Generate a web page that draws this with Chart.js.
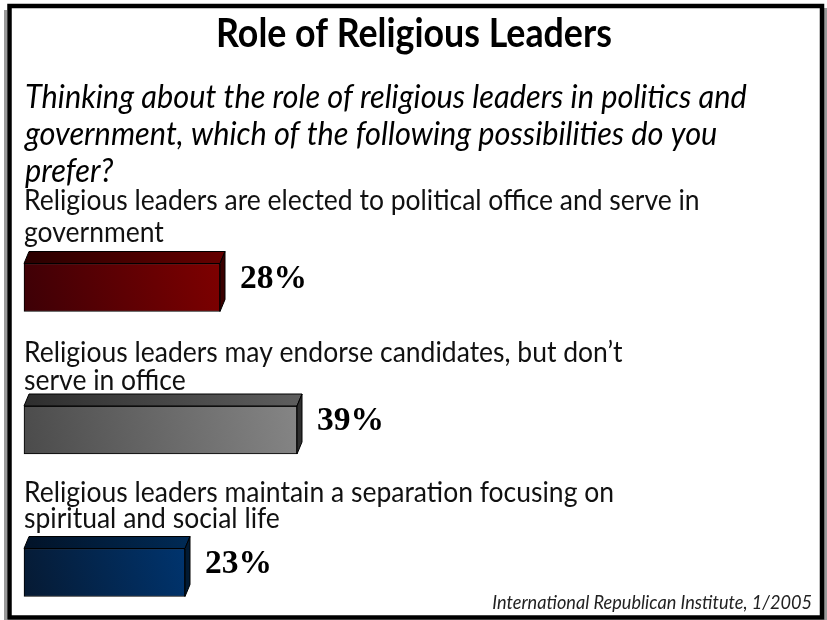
<!DOCTYPE html>
<html>
<head>
<meta charset="utf-8">
<title>Role of Religious Leaders</title>
<script src="https://cdn.jsdelivr.net/npm/chart.js@4.4.1/dist/chart.umd.min.js"></script>
<style>
  html, body { margin: 0; padding: 0; background: #fff; }
  #wrap { width: 827px; height: 620px; }
</style>
</head>
<body>
<div id="wrap"><canvas id="religionChart" width="827" height="620"></canvas></div>
<script>
// data
const categories = [
    ['Religious leaders are elected to political office and serve in', 'government'],
    ['Religious leaders may endorse candidates, but don\u2019t', 'serve in office'],
    ['Religious leaders maintain a separation focusing on', 'spiritual and social life']
];
const values = [28, 39, 23];
const titleText = 'Role of Religious Leaders';
const questionLines = [
    'Thinking about the role of religious leaders in politics and',
    'government, which of the following possibilities do you',
    'prefer?'
];
const sourceText = 'International Republican Institute, 1/2005';

// colours of the 3d bars: front gradient, top gradient, side
const frontColors = [['#3d0006', '#7e0000'], ['#4b4b4b', '#858585'], ['#061a33', '#00346e']];
const topColors = [['#2a0000', '#650000'], ['#2e2e2e', '#5e5e5e'], ['#021328', '#002a55']];
const sideColors = ['#3a0000', '#2f2f2f', '#011a33'];

const sans = 'Lato, "Open Sans", sans-serif';
const serif = '"Liberation Serif", "DejaVu Serif", serif';
const depthX = 5;
const depthY = -12;
const stretch = 1.06; // slide font is a bit narrower than Lato
// baselines for the two lines of each category label
const labelBaselines = [[210, 242], [362, 390], [502, 528]];

// font size so that a text gets a given width
function fitSize(ctx, text, style, family, width) {
    ctx.font = style + ' 100px ' + family;
    return 100 * width / ctx.measureText(text).width;
}

// draw text squeezed horizontally by sx
function squeezed(ctx, text, x, y, sx) {
    ctx.save();
    ctx.translate(x, y);
    ctx.scale(sx, 1);
    ctx.fillText(text, 0, 0);
    ctx.restore();
}

function barBox(chart, i) {
    const el = chart.getDatasetMeta(0).data[i];
    const p = el.getProps(['x', 'y', 'base', 'height'], true);
    return { L: p.base, R: p.x, T: p.y - p.height / 2, B: p.y + p.height / 2, yc: p.y };
}

// white page with the black slide frame
const framePlugin = {
    id: 'frame',
    beforeDraw(chart) {
        const ctx = chart.ctx;
        ctx.save();
        ctx.fillStyle = '#fff';
        ctx.fillRect(0, 0, chart.width, chart.height);
        ctx.fillStyle = '#9a9a9a';
        ctx.fillRect(4, 10, 3, 610);
        ctx.fillRect(824, 8, 3, 612);
        ctx.strokeStyle = '#000';
        ctx.lineWidth = 4.5;
        ctx.strokeRect(9.5, 6, 812.5, 611.5);
        ctx.restore();
    }
};

// top and side faces + value labels
const bar3dPlugin = {
    id: 'bar3d',
    afterDatasetsDraw(chart) {
        const ctx = chart.ctx;
        ctx.save();
        values.forEach((v, i) => {
            const b = barBox(chart, i);
            // top face
            const g = ctx.createLinearGradient(b.L, 0, b.R + depthX, 0);
            g.addColorStop(0, topColors[i][0]);
            g.addColorStop(1, topColors[i][1]);
            ctx.beginPath();
            ctx.moveTo(b.L, b.T);
            ctx.lineTo(b.L + depthX, b.T + depthY);
            ctx.lineTo(b.R + depthX, b.T + depthY);
            ctx.lineTo(b.R, b.T);
            ctx.closePath();
            ctx.fillStyle = g;
            ctx.fill();
            ctx.lineWidth = 1;
            ctx.strokeStyle = '#000';
            ctx.stroke();
            // side face
            ctx.beginPath();
            ctx.moveTo(b.R, b.T);
            ctx.lineTo(b.R + depthX, b.T + depthY);
            ctx.lineTo(b.R + depthX, b.B + depthY);
            ctx.lineTo(b.R, b.B);
            ctx.closePath();
            ctx.fillStyle = sideColors[i];
            ctx.fill();
            ctx.stroke();
        });
        // value labels
        const size = fitSize(ctx, values[0] + '%', 'bold', serif, 67);
        ctx.font = 'bold ' + size + 'px ' + serif;
        ctx.fillStyle = '#000';
        ctx.textAlign = 'left';
        ctx.textBaseline = 'alphabetic';
        values.forEach((v, i) => {
            const b = barBox(chart, i);
            ctx.fillText(v + '%', b.R + 20, b.yc);
        });
        ctx.restore();
    }
};

// title, question, category labels, source
const textPlugin = {
    id: 'texts',
    afterDraw(chart) {
        const ctx = chart.ctx;
        ctx.save();
        ctx.fillStyle = '#000';
        ctx.textBaseline = 'alphabetic';

        let size = fitSize(ctx, titleText, 'bold', sans, 396) * 1.1;
        ctx.font = 'bold ' + size + 'px ' + sans;
        ctx.textAlign = 'center';
        squeezed(ctx, titleText, 414, 47, 1 / 1.1);

        ctx.textAlign = 'left';
        size = fitSize(ctx, questionLines[0], 'italic', sans, 722) * stretch;
        ctx.font = 'italic ' + size + 'px ' + sans;
        questionLines.forEach((line, k) => squeezed(ctx, line, 25, 108 + k * 37, 1 / stretch));

        size = fitSize(ctx, categories[0][0], 'normal', sans, 676) * stretch;
        ctx.font = 'normal ' + size + 'px ' + sans;
        ctx.fillStyle = '#111';
        categories.forEach((lines, i) => {
            lines.forEach((line, k) => squeezed(ctx, line, 24, labelBaselines[i][k], 1 / stretch));
        });

        size = fitSize(ctx, sourceText, 'italic', sans, 320) * stretch;
        ctx.font = 'italic ' + size + 'px ' + sans;
        ctx.textAlign = 'right';
        ctx.fillStyle = '#222';
        squeezed(ctx, sourceText, 812, 609, 1 / stretch);
        ctx.restore();
    }
};

const chart = new Chart(document.getElementById('religionChart'), {
    type: 'bar',
    data: {
        labels: categories,
        datasets: [{
            data: values,
            backgroundColor: (c) => {
                const ch = c.chart;
                const i = c.dataIndex;
                if (!ch.chartArea || i === undefined) return frontColors[0][1];
                const L = ch.scales.x.getPixelForValue(0);
                const R = ch.scales.x.getPixelForValue(values[i]);
                const yc = ch.scales.y.getPixelForValue(i);
                const g = ch.ctx.createLinearGradient(L, yc + 24, R, yc - 24);
                g.addColorStop(0, frontColors[i][0]);
                g.addColorStop(1, frontColors[i][1]);
                return g;
            },
            borderColor: '#000',
            borderWidth: 1,
            borderSkipped: false,
            barThickness: 48,
            clip: false
        }]
    },
    options: {
        indexAxis: 'y',
        responsive: false,
        animation: false,
        devicePixelRatio: 1,
        layout: {
            padding: { left: 24, right: 103, top: 287.5, bottom: 47.5 }
        },
        scales: {
            x: { display: false, min: 0, max: 100 },
            y: { display: false, offset: false }
        },
        plugins: {
            legend: { display: false },
            tooltip: { enabled: false },
            title: { display: false }
        }
    },
    plugins: [framePlugin, bar3dPlugin, textPlugin]
});
</script>
</body>
</html>
